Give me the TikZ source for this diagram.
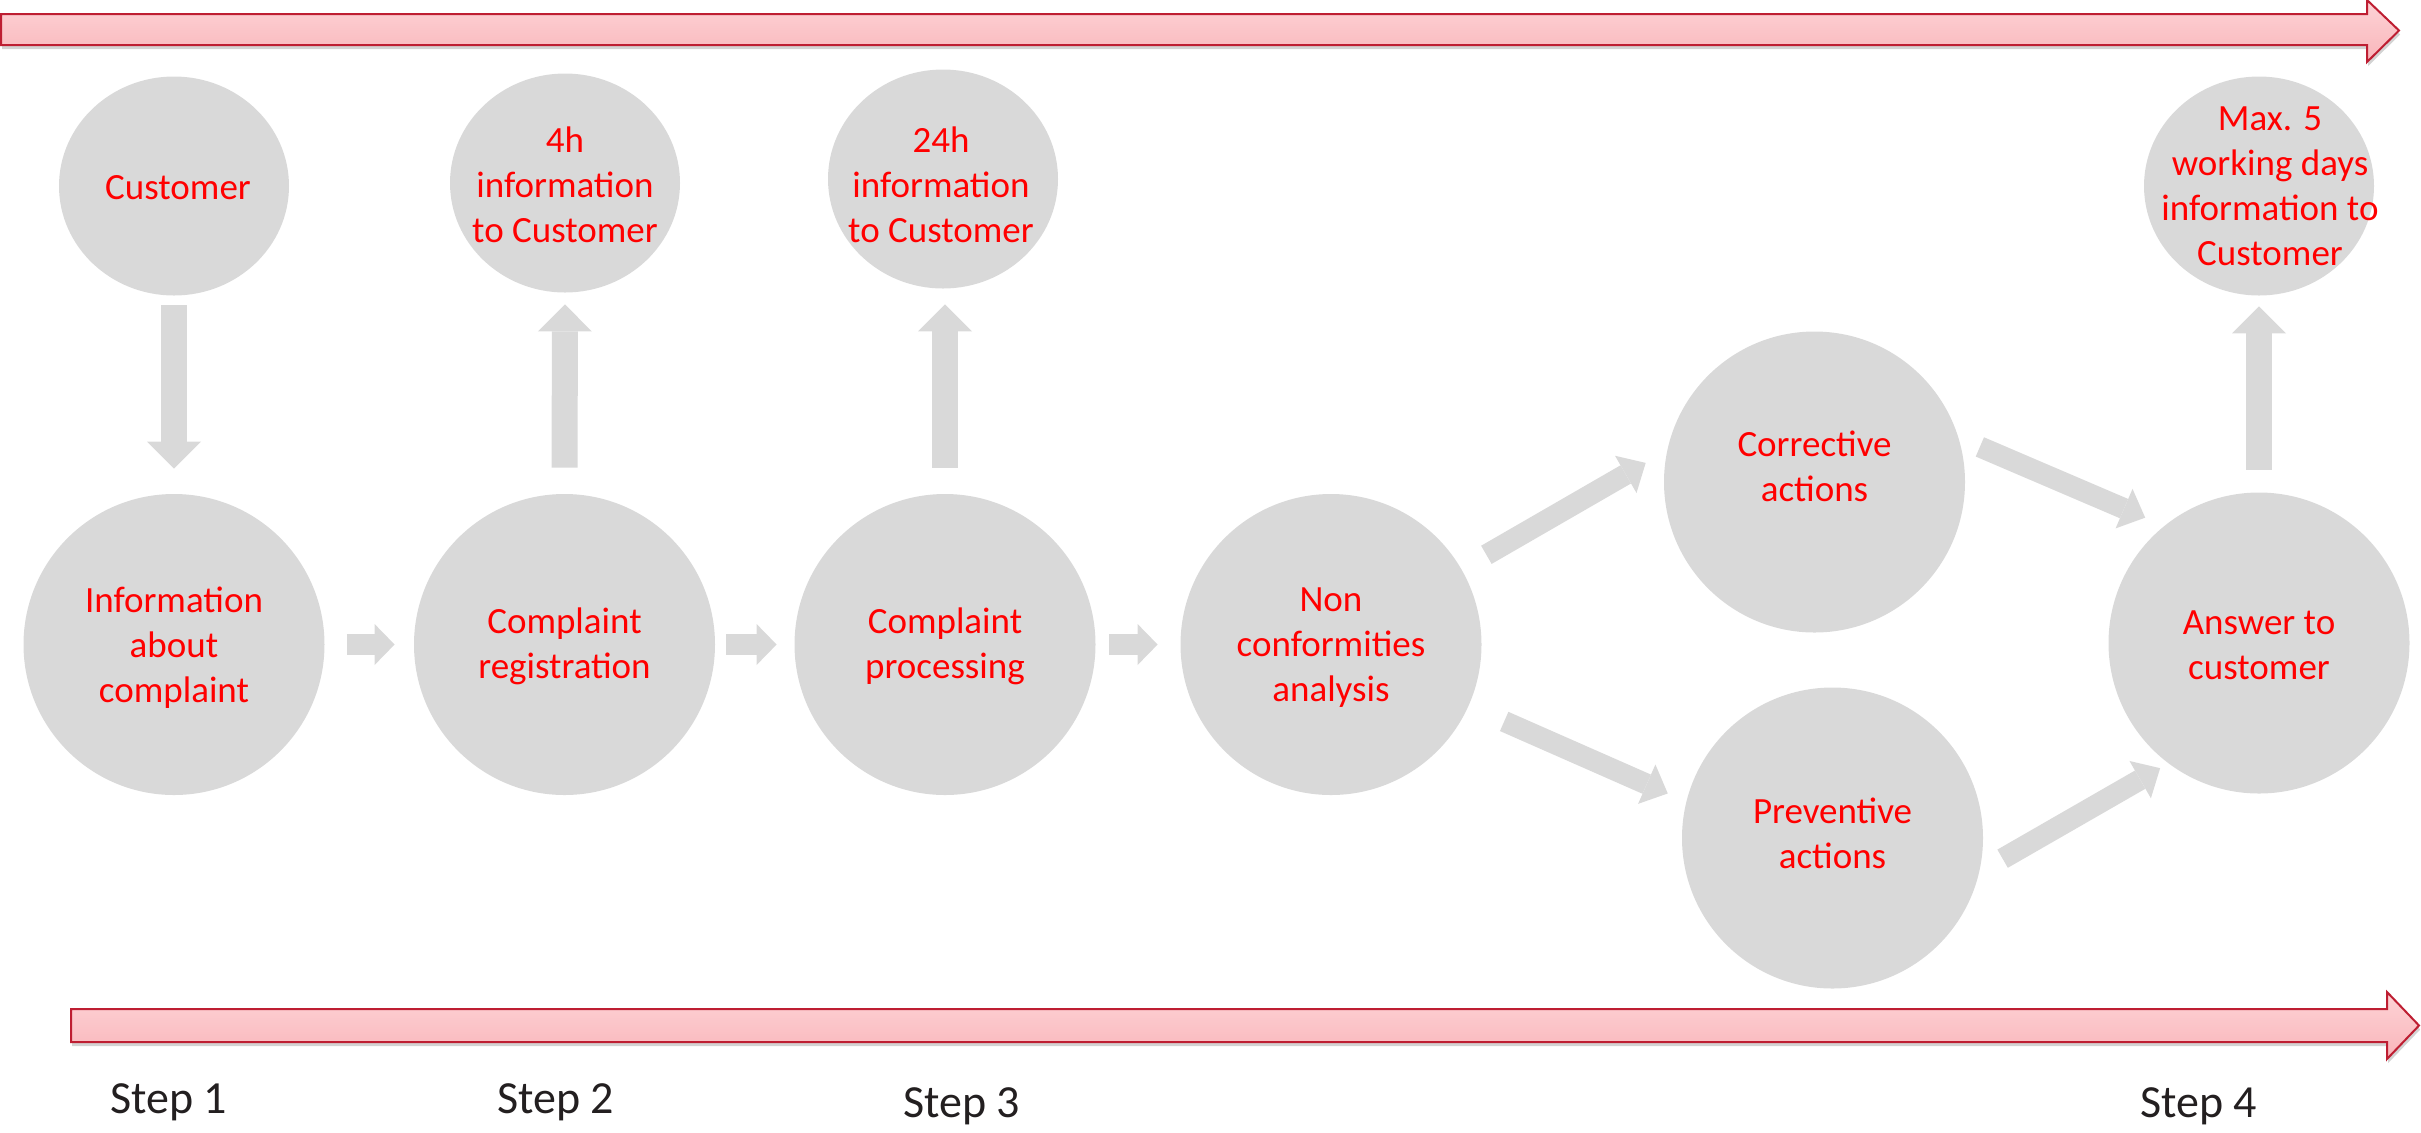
\documentclass[tikz,border=0pt]{standalone}
\usepackage{fontspec}
\setmainfont{Carlito}
\usetikzlibrary{arrows.meta,shapes.geometric,shadows}
\definecolor{circgray}{RGB}{217,217,217}
\definecolor{bandtop}{RGB}{253,211,214}
\definecolor{bandbot}{RGB}{249,181,186}
\definecolor{bandedge}{RGB}{190,30,50}
\definecolor{stepdark}{RGB}{35,31,32}
\definecolor{txtred}{RGB}{255,0,0}
\begin{document}
\begin{tikzpicture}[x=0.5pt,y=-0.5pt,
  band/.style={draw=bandedge, line width=1pt, line join=miter, top color=bandtop, bottom color=bandbot,
    drop shadow={opacity=0.35, shadow xshift=0.6pt, shadow yshift=-2pt}},
  bigc/.style={circle, fill=circgray, minimum size=150.5pt, inner sep=0pt},
  topc/.style={ellipse, fill=circgray, minimum width=115pt, minimum height=109.5pt, inner sep=0pt},
  txt/.style={font=\fontsize{18.5}{22.5}\selectfont, text=txtred, align=center, inner sep=0pt,
    execute at begin node={\rule{0pt}{15.75pt}}, execute at end node={\rule[-6.75pt]{0pt}{0pt}}},
  steplabel/.style={font=\fontsize{23}{27}\selectfont, text=stepdark, anchor=base west, inner sep=0pt},
  varrow/.style={draw=circgray, line width=13pt, -{Triangle[width=27pt,length=13.5pt,line width=0pt]}},
  harrow/.style={draw=circgray, line width=10.5pt, -{Triangle[width=20.5pt,length=10pt,line width=0pt]}},
  darrow/.style={draw=circgray, line width=10.5pt, -{Triangle[width=21.5pt,length=11.5pt,line width=0pt]}}
]
\useasboundingbox (0,0) rectangle (2421,1132);

% timeline bands
\path[band] (1,14) -- (2367,14) -- (2367,0) -- (2399,30.5) -- (2367,62) -- (2367,45) -- (1,45) -- cycle;
\path[band] (71,1009) -- (2387,1009) -- (2387,992) -- (2419,1025.5) -- (2387,1059) -- (2387,1042) -- (71,1042) -- cycle;

% top row
\node[topc, label={[txt,xshift=2pt,yshift=-2pt]center:Customer}] (cust) at (174,186) {};
\node[topc, label={[txt,yshift=-4.25pt]center:{4h\\information\\to Customer}}] (t4) at (565,183) {};
\node[topc, label={[txt,xshift=-1pt,yshift=-6pt]center:{24h\\information\\to Customer}}] (t24) at (943,179) {};
\node[topc, label={[txt,xshift=5.5pt,yshift=-3.5pt]center:{Max. 5\\working days\\information to\\Customer}}] (tmax) at (2259,186) {};

% main row
\node[bigc, label={[txt,yshift=-3.5pt]center:{Information\\about\\complaint}}] (c1) at (174,644.5) {};
\node[bigc, label={[txt,yshift=-2.5pt]center:{Complaint\\registration}}] (c2) at (564.5,644.5) {};
\node[bigc, label={[txt,yshift=-2.5pt]center:{Complaint\\processing}}] (c3) at (945,644.5) {};
\node[bigc, label={[txt,yshift=-3.5pt]center:{Non\\conformities\\analysis}}] (c4) at (1331,644.5) {};
\node[bigc, label={[txt,yshift=4.5pt]center:{Corrective\\actions}}] (c5) at (1814.5,482) {};
\node[bigc, label={[txt,yshift=-1pt]center:{Preventive\\actions}}] (c6) at (1832.5,838) {};
\node[bigc, label={[txt,yshift=-4.5pt]center:{Answer to\\customer}}] (c7) at (2259,643) {};

% vertical arrows
\draw[varrow, shorten <=4.75pt, shorten >=12.5pt] (cust.south) -- (c1.north);
\draw[varrow, shorten <=13pt, shorten >=5.75pt] (c2.north) -- (t4.south);
\draw[varrow, shorten <=13pt, shorten >=7.75pt] (c3.north) -- (c3.north |- t24.south);
\draw[varrow, shorten <=11.25pt, shorten >=5.25pt] (c7.north) -- (tmax.south);

% horizontal arrows
\draw[harrow, shorten <=11pt, shorten >=9.5pt] (c1.east) -- (c2.west);
\draw[harrow, shorten <=5.5pt, shorten >=8.75pt] (c2.east) -- (c3.west);
\draw[harrow, shorten <=6.75pt, shorten >=11.25pt] (c3.east) -- (c4.west);

% diagonal arrows
\draw[darrow, shorten <=14.25pt, shorten >=12.25pt] (c4.30) -- (c5.168);
\draw[darrow, shorten <=19.3pt, shorten >=10pt] (c4.-24.3) -- (c6.166.2);
\draw[darrow, shorten <=11.45pt, shorten >=10.25pt] (c5.17.5) -- (c7.129.8);
\draw[darrow, shorten <=13.3pt, shorten >=4.65pt] (c6.-13.5) -- (c7.233.8);

% step labels
\node[steplabel] (s1) at (110,1113) {Step 1};
\node[steplabel] (s2) at (497,1113) {Step 2};
\node[steplabel] (s3) at (903,1117) {Step 3};
\node[steplabel] (s4) at (2140,1117) {Step 4};
\end{tikzpicture}
\end{document}
